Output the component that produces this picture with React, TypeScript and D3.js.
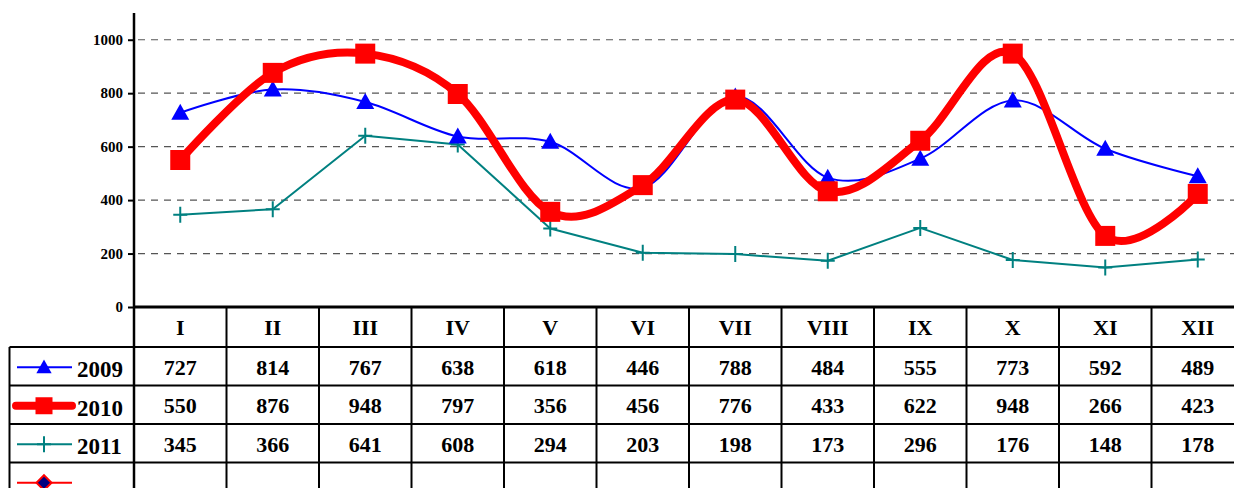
import React, { useEffect, useRef } from 'react';
import * as d3 from 'd3';

const months = ['I', 'II', 'III', 'IV', 'V', 'VI', 'VII', 'VIII', 'IX', 'X', 'XI', 'XII'];
const values2009 = [727, 814, 767, 638, 618, 446, 788, 484, 555, 773, 592, 489];
const values2010 = [550, 876, 948, 797, 356, 456, 776, 433, 622, 948, 266, 423];
const values2011 = [345, 366, 641, 608, 294, 203, 198, 173, 296, 176, 148, 178];
const yTicks = [0, 200, 400, 600, 800, 1000];

interface Series {
  name: string;
  values: number[];
  color: string;
  width: number;
  smooth: boolean;
  marker: 'triangle' | 'square' | 'plus' | 'diamond';
}

const series: Series[] = [
  { name: '2009', values: values2009, color: '#0000ff', width: 2, smooth: true, marker: 'triangle' },
  { name: '2010', values: values2010, color: '#ff0000', width: 8, smooth: true, marker: 'square' },
  { name: '2011', values: values2011, color: '#008080', width: 2, smooth: false, marker: 'plus' },
  { name: '', values: [], color: '#ff0000', width: 2, smooth: false, marker: 'diamond' },
];

const App: React.FC = () => {
  const svgRef = useRef<SVGSVGElement | null>(null);

  useEffect(() => {
    if (!svgRef.current) return;
    const width = 1250;
    const height = 500;
    const axisX = 134;
    const tableLeft = 9.5;
    const axisY = 307;
    const headerH = 40;
    const rowH = 38.5;
    const font = '"Liberation Serif", "Times New Roman", serif';

    const svg = d3.select(svgRef.current);
    svg.selectAll('*').remove();
    svg.attr('width', width).attr('height', height);

    const x = d3.scaleBand<string>()
      .domain(months)
      .range([axisX, axisX + 12 * 92.5]);
    const cx = (m: string) => (x(m) as number) + x.bandwidth() / 2;

    const y = d3.scaleLinear()
      .domain([0, 1100])
      .range([axisY, 13]);

    // grid lines
    svg.append('g')
      .selectAll('line')
      .data(yTicks.filter(t => t > 0))
      .enter()
      .append('line')
      .attr('x1', axisX + 4)
      .attr('x2', width)
      .attr('y1', d => y(d))
      .attr('y2', d => y(d))
      .attr('stroke', '#555')
      .attr('stroke-width', 1.2)
      .attr('stroke-dasharray', '7,6');

    // y axis
    const yAxis = svg.append('g')
      .attr('transform', `translate(${axisX},0)`)
      .call(d3.axisLeft(y).tickValues(yTicks).tickSize(6).tickPadding(5).tickFormat(d3.format('d')));
    yAxis.select('.domain').attr('stroke', '#000').attr('stroke-width', 2.5).attr('d', `M0,${y(1100)}V${axisY}`);
    yAxis.selectAll('.tick line').attr('stroke', '#000').attr('stroke-width', 2);
    yAxis.selectAll('.tick text')
      .attr('fill', '#000')
      .style('font-family', font)
      .style('font-weight', 'bold')
      .style('font-size', '15px');

    const markerPath = (kind: Series['marker'], cxv: number, cyv: number, k = 1) => {
      if (kind === 'triangle') return `M${cxv},${cyv - 9 * k}L${cxv + 9 * k},${cyv + 7 * k}L${cxv - 9 * k},${cyv + 7 * k}Z`;
      if (kind === 'square') return `M${cxv - 10 * k},${cyv - 10 * k}h${20 * k}v${20 * k}h${-20 * k}Z`;
      if (kind === 'plus') return `M${cxv - 7},${cyv}h14M${cxv},${cyv - 8}v16`;
      return `M${cxv},${cyv - 7.5}L${cxv + 7.5},${cyv}L${cxv},${cyv + 7.5}L${cxv - 7.5},${cyv}Z`;
    };

    const drawMarker = (g: d3.Selection<SVGGElement, unknown, null, undefined>, s: Series, px: number, py: number, k = 1) => {
      const p = g.append('path').attr('d', markerPath(s.marker, px, py, k));
      if (s.marker === 'plus') p.attr('fill', 'none').attr('stroke', s.color).attr('stroke-width', 2);
      else if (s.marker === 'diamond') p.attr('fill', '#000080').attr('stroke', s.color).attr('stroke-width', 2);
      else p.attr('fill', s.color);
    };

    // series lines
    const plot = svg.append('g');
    [series[2], series[0], series[1]].forEach(s => {
      const line = d3.line<number>()
        .x((_, i) => cx(months[i]))
        .y(d => y(d))
        .curve(s.smooth ? d3.curveCardinal.tension(0) : d3.curveLinear);
      plot.append('path')
        .datum(s.values)
        .attr('fill', 'none')
        .attr('stroke', s.color)
        .attr('stroke-width', s.width)
        .attr('stroke-linejoin', 'round')
        .attr('d', line);
      const mg = plot.append('g');
      s.values.forEach((v, i) => drawMarker(mg, s, cx(months[i]), y(v)));
    });

    // table
    const table = svg.append('g');
    const rowsTop = [axisY + headerH, axisY + headerH + rowH, axisY + headerH + 2 * rowH, axisY + headerH + 3 * rowH];
    const tableBottom = rowsTop[3] + rowH;

    table.append('line')
      .attr('x1', axisX - 1).attr('x2', width)
      .attr('y1', axisY).attr('y2', axisY)
      .attr('stroke', '#000').attr('stroke-width', 2.8);
    rowsTop.forEach(ry => {
      table.append('line')
        .attr('x1', tableLeft).attr('x2', width)
        .attr('y1', ry).attr('y2', ry)
        .attr('stroke', '#000').attr('stroke-width', 2);
    });
    table.append('line')
      .attr('x1', tableLeft).attr('x2', tableLeft)
      .attr('y1', rowsTop[0]).attr('y2', tableBottom + 20)
      .attr('stroke', '#000').attr('stroke-width', 2);
    table.append('line')
      .attr('x1', axisX).attr('x2', axisX)
      .attr('y1', axisY).attr('y2', tableBottom + 20)
      .attr('stroke', '#000').attr('stroke-width', 2.5);
    table.selectAll('line.col')
      .data(months)
      .enter()
      .append('line')
      .attr('class', 'col')
      .attr('x1', d => (x(d) as number) + x.bandwidth())
      .attr('x2', d => (x(d) as number) + x.bandwidth())
      .attr('y1', axisY)
      .attr('y2', tableBottom + 20)
      .attr('stroke', '#000')
      .attr('stroke-width', 2);

    // header
    table.selectAll('text.hdr')
      .data(months)
      .enter()
      .append('text')
      .attr('class', 'hdr')
      .attr('x', d => cx(d))
      .attr('y', axisY + 28)
      .attr('text-anchor', 'middle')
      .style('font-family', font)
      .style('font-weight', 'bold')
      .style('font-size', '22px')
      .text(d => d);

    // rows
    series.forEach((s, r) => {
      const top = rowsTop[r];
      const mid = top + rowH / 2 + 1;
      const lg = table.append('g');
      lg.append('line')
        .attr('x1', s.width > 2 ? 16 : 17).attr('x2', s.width > 2 ? 72 : 72)
        .attr('y1', mid).attr('y2', mid)
        .attr('stroke', s.color)
        .attr('stroke-width', s.width)
        .attr('stroke-linecap', s.width > 2 ? 'round' : 'butt');
      drawMarker(lg, s, 44, mid, 0.85);
      lg.append('text')
        .attr('x', 77)
        .attr('y', top + 30)
        .style('font-family', font)
        .style('font-weight', 'bold')
        .style('font-size', '23px')
        .text(s.name);

      table.append('g')
        .selectAll('text')
        .data(s.values)
        .enter()
        .append('text')
        .attr('x', (_, i) => cx(months[i]))
        .attr('y', top + 27.5)
        .attr('text-anchor', 'middle')
        .style('font-family', font)
        .style('font-weight', 'bold')
        .style('font-size', '22px')
        .text(d => d);
    });
  }, []);

  return (
    <div style={{ position: 'absolute', left: 0, top: 0, width: 1234, height: 488, overflow: 'hidden', background: '#fff' }}>
      <svg ref={svgRef} />
    </div>
  );
};

export default App;
